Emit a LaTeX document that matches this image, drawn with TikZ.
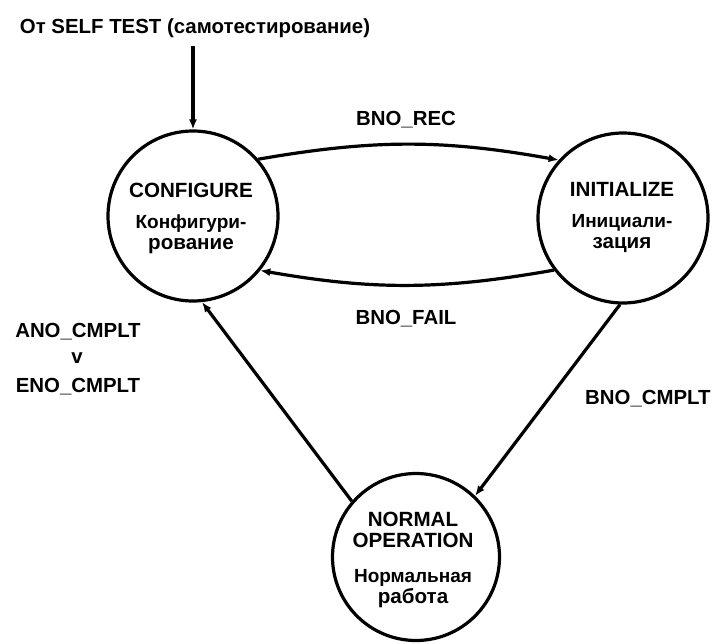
\documentclass[tikz,border=0pt]{standalone}
\usepackage{fontspec}
\setmainfont{Liberation Sans}
\usetikzlibrary{arrows.meta}
\newcommand\rusfont{\fontsize{19}{21}\selectfont}
\begin{document}
\begin{tikzpicture}[x=1pt,y=-1pt,
  state/.style={circle,draw,line width=3.2pt,inner sep=0pt,minimum size=170pt},
  txt/.style={font=\bfseries\fontsize{20.6}{21}\selectfont,align=center,inner sep=0pt},
  lbl/.style={font=\bfseries\fontsize{20.4}{22}\selectfont,inner sep=0pt},
  conn/.style={line width=3.2pt,-{Latex[length=10pt,width=8pt]}}]
\useasboundingbox (0,0) rectangle (715,643);
% states
\node[state] (cfg) at (193,216) {};
\node[state] (ini) at (623,218) {};
\node[state,minimum size=167pt] (nrm) at (416,557) {};
% state texts
\node[txt,anchor=north] (cfgtxt) at (191,183) {CONFIGURE\\[10pt]\rusfont Конфигури-\\рование};
\node[txt,anchor=north] (initxt) at (622,182) {INITIALIZE\\[10pt]\rusfont Инициали-\\зация};
\node[txt,anchor=north] (nrmtxt) at (413,512) {NORMAL\\OPERATION\\[14pt]\rusfont Нормальная\\работа};
% labels
\node[lbl,anchor=base] (toplbl) at (195,33) {От SELF TEST (самотестирование)};
\node[lbl,anchor=base] (reclbl) at (406,125) {BNO\_REC};
\node[lbl,anchor=base] (faillbl) at (406,324) {BNO\_FAIL};
\node[lbl,anchor=base west] (cmpllbl) at (585,404) {BNO\_CMPLT};
\node[lbl,anchor=base] (anolbl) at (78,337) {ANO\_CMPLT};
\node[lbl,anchor=base] (orlbl) at (77,363) {v};
\node[lbl,anchor=base] (enolbl) at (78,392) {ENO\_CMPLT};
% connectors
\coordinate (src) at (193,46);
\draw[conn] (src) -- (cfg.north);
\draw[conn] (cfg.41) to[bend left=10] (ini.138);
\draw[conn] (ini.217) to[bend left=10] (cfg.321);
\draw[conn] (ini.268) -- (nrm.46);
\draw[conn] (nrm.139) -- (cfg.276);
\end{tikzpicture}
\end{document}
